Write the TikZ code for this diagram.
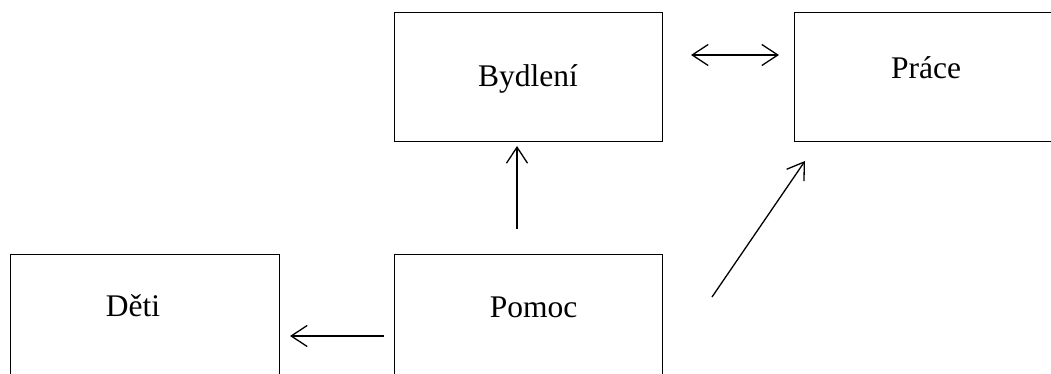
\documentclass[tikz,border=0pt]{standalone}
\usepackage{fontspec}
\setmainfont{Liberation Serif}
\usetikzlibrary{arrows.meta}
\begin{document}
\begin{tikzpicture}[x=1pt,y=1pt,
  box/.style={draw=black, line width=1.3pt, anchor=south west, inner sep=0pt, minimum width=268pt, minimum height=129pt},
  lbl/.style={anchor=base, inner sep=0pt, font=\fontsize{31.5}{38}\selectfont},
  tip/.tip={Straight Barb[length=16pt,width=21pt,line width=1.3pt]},
  conn/.style={draw=black, line width=1.3pt, -tip},
  conn2/.style={draw=black, line width=1.3pt, tip-tip}]
\clip (0,0) rectangle (1051,374);
\fill[white] (0,0) rectangle (1051,374);
% boxes
\node[box] (byd) at (394,232) {};
\node[box] (pra) at (794,232) {};
\node[box, minimum width=269pt] (det) at (10,-10) {};
\node[box] (pom) at (394,-10) {};
% labels
\node[lbl] (bydl) at (528,287) {Bydlení};
\node[lbl] (pral) at (926,295) {Práce};
\node[lbl] (detl) at (133,57) {Děti};
\node[lbl] (poml) at (533.5,56) {Pomoc};
% connector ends
\coordinate (upA) at (517,145);
\coordinate (upB) at (517,228);
\coordinate (lfA) at (384,38);
\coordinate (lfB) at (290,38);
\coordinate (dgA) at (712,77);
\coordinate (dgB) at (805,213);
\coordinate (dbA) at (691,319);
\coordinate (dbB) at (779,319);
% connectors
\draw[conn] (upA) -- (upB);
\draw[conn] (lfA) -- (lfB);
\draw[conn] (dgA) -- (dgB);
\draw[conn2] (dbA) -- (dbB);
\end{tikzpicture}
\end{document}
